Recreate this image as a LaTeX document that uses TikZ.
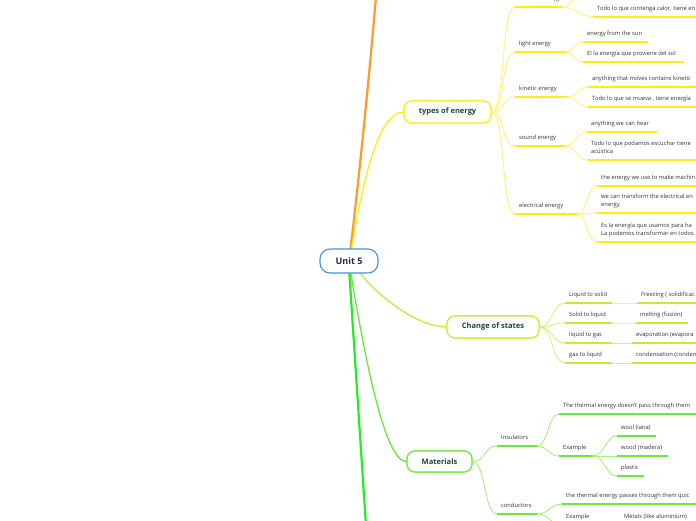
\documentclass[tikz,border=0pt]{standalone}
\usepackage{fontspec}
\setmainfont{Open Sans}
\definecolor{cYel}{HTML}{FFEC10}
\definecolor{cYelL}{HTML}{FFF27A}
\definecolor{cLim}{HTML}{BEEF38}
\definecolor{cLimL}{HTML}{D2F47C}
\definecolor{cGrn}{HTML}{6CE83A}
\definecolor{cGrnL}{HTML}{A8F080}
\definecolor{cBright}{HTML}{22EE22}
\definecolor{cOrg}{HTML}{FF9A22}
\definecolor{cBlue}{HTML}{4A8FD8}
\definecolor{cNavy}{HTML}{1E2B4F}
\definecolor{cTeal}{HTML}{1A4A3A}
\definecolor{cTxt}{HTML}{333333}
\tikzset{
  leaf/.style={anchor=south west, inner xsep=4pt, inner ysep=4pt, text depth=2pt,
    font=\fontsize{5.8}{8}\selectfont, text=cTxt},
  uline/.style={line width=2pt},
  conn/.style={line width=0.9pt},
  mainconn/.style={line width=1.3pt},
  topic/.style={rounded corners=8pt, fill=white, line width=1.1pt,
    font=\bfseries\fontsize{7.5}{9}\selectfont, text=cTeal, minimum height=22pt, inner sep=0pt},
}
\newcommand\ml[2]{\begin{tabular}[b]{@{}l@{}}#1\\#2\end{tabular}}
\newcommand\lf[6]{%
  \node[leaf] (#1) at (#3,#4) {#6};
  \coordinate (#1-e) at ([xshift=#5pt]#1.south west);
  \draw[uline, #2] (#1.south west) -- (#1-e);
}
\newcommand\cn[4]{\draw[conn,#1] (#2) .. controls +(#4,0) and +(-#4,0) .. (#3);}
\begin{document}
\begin{tikzpicture}[x=1pt,y=-1pt]
\useasboundingbox (0,0) rectangle (696,520);
\clip (0,0) rectangle (696,520);
\fill[white] (0,0) rectangle (696,520);

\coordinate (uc) at (349,261);
\coordinate (otop) at (379,-40);
\coordinate (bbot) at (366,526);

\node[topic, draw=cYel, minimum width=87pt] (types) at (447.5,112) {types of energy};
\node[topic, draw=cLim, minimum width=92pt] (change) at (493,327) {Change of states};
\node[topic, draw=cGrn, minimum width=65pt, minimum height=21pt] (mat) at (439.5,461.5) {Materials};

% main branches
\draw[line width=2.2pt, cOrg] (350,252) .. controls (358,190) and (372,50) .. (otop);
\draw[mainconn, cYel] (351,252) .. controls (360,200) and (375,112) .. (types.west);
\draw[mainconn, cLim] (356,268) .. controls (380,300) and (420,327) .. (change.west);
\draw[mainconn, cGrn] (350,268) .. controls (365,360) and (385,462) .. (mat.west);
\draw[line width=2.2pt, cBright] (349,268) -- (bbot);

\node[draw=cBlue, rounded corners=10pt, line width=1.1pt, fill=white, minimum width=58pt,
  minimum height=24pt, inner sep=0pt, font=\bfseries\fontsize{9}{11}\selectfont, text=cNavy] (u) at (uc) {Unit 5};

\node[topic, draw=cYel, minimum width=87pt] at (types) {types of energy};
\node[topic, draw=cLim, minimum width=92pt] at (change) {Change of states};
\node[topic, draw=cGrn, minimum width=65pt, minimum height=21pt] at (mat) {Materials};

% ---- types of energy ----
\lf{th}{cYel}{515}{7}{47}{thermal energy}
\coordinate (th0) at (593,-22);
\lf{th2}{cYel}{593}{16.5}{160}{Todo lo que contenga calor, tiene en}
\lf{li}{cYel}{515}{52}{50}{light energy}
\lf{li1}{cYel}{583}{42}{65}{energy from the sun}
\lf{li2}{cYel}{583}{62}{101}{El la energía que proviene del sol}
\lf{ki}{cYel}{515}{97}{52}{kinetic energy}
\lf{ki1}{cYel}{588}{87}{160}{anything that moves contains kinetic}
\lf{ki2}{cYel}{588}{107}{160}{Todo lo que se mueva , tiene energía}
\lf{so}{cYel}{515}{146}{50}{sound energy}
\lf{so1}{cYel}{587}{132}{70}{anything we can hear}
\lf{so2}{cYel}{587}{160}{160}{\ml{Todo lo que podamos escuchar tiene}{acústica}}
\lf{el}{cYel}{515}{214}{62}{electrical energy}
\lf{el1}{cYel}{597}{186}{160}{the energy we use to make machin}
\lf{el2}{cYel}{597}{213}{160}{\ml{we can transform the electrical en}{energy}}
\lf{el3}{cYel}{597}{242}{160}{\ml{Es la energía que usamos para ha}{La podemos transformar en todos}}

\cn{cYelL}{types.east}{th.south west}{14}
\cn{cYelL}{types.east}{li.south west}{14}
\cn{cYelL}{types.east}{ki.south west}{14}
\cn{cYelL}{types.east}{so.south west}{14}
\cn{cYelL}{types.east}{el.south west}{14}
\cn{cYelL}{th-e}{th0}{14}
\cn{cYelL}{th-e}{th2.south west}{14}
\cn{cYelL}{li-e}{li1.south west}{9}
\cn{cYelL}{li-e}{li2.south west}{9}
\cn{cYelL}{ki-e}{ki1.south west}{10}
\cn{cYelL}{ki-e}{ki2.south west}{10}
\cn{cYelL}{so-e}{so1.south west}{10}
\cn{cYelL}{so-e}{so2.south west}{10}
\cn{cYelL}{el-e}{el1.south west}{10}
\cn{cYelL}{el-e}{el2.south west}{10}
\cn{cYelL}{el-e}{el3.south west}{10}

% ---- change of states ----
\lf{c1}{cLim}{565}{303}{47}{Liquid to solid}
\lf{c1a}{cLim}{637}{303}{120}{Freezing ( solidificac}
\lf{c2}{cLim}{565}{323}{47}{Solid to liquid}
\lf{c2a}{cLim}{636}{323}{52}{melting (fusión)}
\lf{c3}{cLim}{565}{343}{47}{liquid to gas}
\lf{c3a}{cLim}{632}{343}{120}{evaporation (evapora}
\lf{c4}{cLim}{565}{363}{47}{gas to liquid}
\lf{c4a}{cLim}{632}{363}{120}{condensation (conden}

\cn{cLimL}{change.east}{c1.south west}{13}
\cn{cLimL}{change.east}{c2.south west}{13}
\cn{cLimL}{change.east}{c3.south west}{13}
\cn{cLimL}{change.east}{c4.south west}{13}
\cn{cLimL}{c1-e}{c1a.south west}{10}
\cn{cLimL}{c2-e}{c2a.south west}{10}
\cn{cLimL}{c3-e}{c3a.south west}{10}
\cn{cLimL}{c4-e}{c4a.south west}{10}

% ---- materials ----
\lf{ins}{cGrn}{497}{446}{40}{Insulators}
\lf{i1}{cGrn}{559}{414}{160}{The thermal energy doesn't pass through them}
\lf{iex}{cGrn}{559}{456}{34}{Example}
\lf{w1}{cGrn}{617}{436}{39}{wool (lana)}
\lf{w2}{cGrn}{617}{456}{51}{wood (madera)}
\lf{w3}{cGrn}{617}{476}{27}{plastic}
\lf{cond}{cGrn}{497}{514}{40}{conductors}
\lf{cd1}{cGrn}{562}{504}{160}{the thermal energy passes through  them quic}
\lf{cex}{cGrn}{562}{524.5}{34}{Example}
\lf{met}{cGrn}{620}{524.5}{90}{Metals (like aluminium)}

\cn{cGrnL}{mat.east}{ins.south west}{13}
\cn{cGrnL}{mat.east}{cond.south west}{13}
\cn{cGrnL}{ins-e}{i1.south west}{11}
\cn{cGrnL}{ins-e}{iex.south west}{11}
\cn{cGrnL}{iex-e}{w1.south west}{12}
\cn{cGrnL}{iex-e}{w2.south west}{12}
\cn{cGrnL}{iex-e}{w3.south west}{12}
\cn{cGrnL}{cond-e}{cd1.south west}{12}
\cn{cGrnL}{cond-e}{cex.south west}{12}
\cn{cGrnL}{cex-e}{met.south west}{12}
\end{tikzpicture}
\end{document}
